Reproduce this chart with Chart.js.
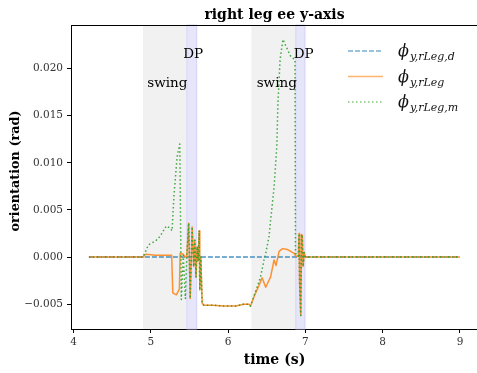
<!DOCTYPE html>
<html>
<head>
<meta charset="utf-8">
<script src="https://cdn.jsdelivr.net/npm/chart.js@4/dist/chart.umd.min.js"></script>
<style>
  body { margin: 0; background: #fff; }
  canvas { display: block; }
</style>
</head>
<body>
<canvas id="chart" width="477" height="373"></canvas>
<script>
// tick labels
const xTicks = [4, 5, 6, 7, 8, 9];
const yTicks = [-0.005, 0, 0.005, 0.010, 0.015, 0.020];

// phases (s)
const swingSpans = [[4.9, 5.46], [6.3, 6.87]];
const dpSpans = [[5.46, 5.6], [6.87, 7.0]];

// desired orientation
const desiredT = [4.2, 5.0, 6.0, 7.0, 8.0, 9.0];
const desiredV = [0, 0, 0, 0, 0, 0];

// estimated orientation
const measT = [4.2, 4.9, 4.91, 4.94, 5.06, 5.27, 5.285, 5.33, 5.37, 5.38, 5.42, 5.445, 5.465,
  5.49, 5.51, 5.535, 5.555, 5.57, 5.585, 5.6, 5.613, 5.626, 5.634, 5.647, 5.665, 5.686,
  5.8, 5.95, 6.1, 6.2, 6.27, 6.29, 6.335, 6.4, 6.44, 6.487, 6.55, 6.595, 6.62, 6.66,
  6.705, 6.77, 6.855, 6.875, 6.91, 6.918, 6.925, 6.94, 6.95, 6.96, 6.97, 6.985, 7.0, 9.0];
const measV = [0, 0, 0.0002, 0.0003, 0.0002, 0.0002, -0.0038, -0.0040, -0.0034, 0.0004, 0.0003, 0, 0,
  0.0036, -0.0044, 0.0032, -0.0010, 0.0018, -0.0021, 0.0011, -0.0004, 0.0028, -0.0035, 0, -0.0049, -0.0051,
  -0.0051, -0.0052, -0.0052, -0.0050, -0.0050, -0.0052, -0.0042, -0.0030, -0.0022, -0.0032, -0.0021, -0.0003, -0.0009, 0.0006,
  0.0009, 0.0008, 0.0004, 0.0001, 0.0001, 0.0025, -0.0028, -0.0062, 0.0024, 0.0023, -0.0010, 0.0005, 0, 0];

// measured orientation
const cmdT = [4.2, 4.9, 4.97, 5.06, 5.12, 5.2, 5.245, 5.275, 5.3, 5.34, 5.375, 5.395, 5.42, 5.448, 5.465,
  5.49, 5.51, 5.535, 5.555, 5.57, 5.585, 5.6, 5.613, 5.626, 5.634, 5.647, 5.665, 5.686,
  5.8, 5.95, 6.1, 6.2, 6.27, 6.29, 6.315, 6.38, 6.42, 6.465, 6.487, 6.53, 6.55, 6.595, 6.63,
  6.645, 6.672, 6.71, 6.725, 6.81, 6.855, 6.866, 6.872, 6.91, 6.918, 6.925, 6.94, 6.95, 6.96, 6.97, 6.985, 7.0, 9.0];
const cmdV = [0, 0, 0.0013, 0.0017, 0.0022, 0.0033, 0.0031, 0.0028, 0.0065, 0.0106, 0.0120, -0.0045, 0.0002, -0.0044, 0,
  0.0036, -0.0044, 0.0032, -0.0010, 0.0018, -0.0021, 0.0011, -0.0004, 0.0028, -0.0035, 0, -0.0049, -0.0051,
  -0.0051, -0.0052, -0.0052, -0.0050, -0.0050, -0.0052, -0.0046, -0.0031, -0.0021, -0.0003, 0.0004, 0.0022, 0.0039, 0.0074, 0.0117,
  0.0163, 0.0209, 0.0231, 0.0228, 0.0213, 0.0210, 0.0209, 0.0004, 0.0001, 0.0025, -0.0028, -0.0062, 0.0024, 0.0023, -0.0010, 0.0005, 0, 0];

const legendSubs = ['y,rLeg,d', 'y,rLeg', 'y,rLeg,m'];

const SERIF = '"DejaVu Serif", serif';
const toXY = (ts, vs) => ts.map((t, i) => ({ x: t, y: vs[i] }));

const phasePlugin = {
    id: 'phases',
    beforeDatasetsDraw(chart) {
        const { ctx, chartArea: a, scales: { x } } = chart;
        ctx.save();
        swingSpans.forEach(([s, e]) => {
            ctx.fillStyle = '#f1f1f1';
            ctx.fillRect(x.getPixelForValue(s), a.top, x.getPixelForValue(e) - x.getPixelForValue(s), a.bottom - a.top);
        });
        dpSpans.forEach(([s, e]) => {
            const x0 = x.getPixelForValue(s), x1 = x.getPixelForValue(e);
            ctx.fillStyle = '#e6e6fb';
            ctx.fillRect(x0, a.top, x1 - x0, a.bottom - a.top);
            ctx.strokeStyle = 'rgba(205,205,242,0.7)';
            ctx.lineWidth = 1;
            ctx.strokeRect(x0 + 0.5, a.top, x1 - x0 - 1, a.bottom - a.top);
        });
        ctx.restore();
    },
    afterDatasetsDraw(chart) {
        const { ctx, scales: { x, y } } = chart;
        ctx.save();
        ctx.fillStyle = '#000';
        ctx.font = '13.5px ' + SERIF;
        ctx.textAlign = 'left';
        ctx.textBaseline = 'alphabetic';
        [[4.955, 0.0180, 'swing'], [6.37, 0.0180, 'swing'], [5.42, 0.0211, 'DP'], [6.85, 0.0211, 'DP']].forEach(([t, v, s]) => {
            ctx.fillText(s, x.getPixelForValue(t), y.getPixelForValue(v));
        });
        ctx.restore();
    },
    afterDraw(chart) {
        const { ctx, chartArea: a } = chart;
        ctx.save();
        // top spine
        ctx.strokeStyle = '#000';
        ctx.lineWidth = 1;
        ctx.beginPath();
        ctx.moveTo(a.left, a.top + 0.5);
        ctx.lineTo(a.right, a.top + 0.5);
        ctx.stroke();

        ctx.fillStyle = '#000';
        ctx.textAlign = 'center';
        ctx.font = 'bold 14px ' + SERIF;
        ctx.fillText('right leg ee y-axis', 274.5, 18.5);
        ctx.fillText('time (s)', 274.5, 364);
        ctx.save();
        ctx.translate(19, 171);
        ctx.rotate(-Math.PI / 2);
        ctx.font = 'bold 12.8px ' + SERIF;
        ctx.fillText('orientation (rad)', 0, 0);
        ctx.restore();

        // legend
        const ds = chart.data.datasets;
        const rows = [51, 76.5, 102];
        ds.forEach((d, i) => {
            const yy = rows[i];
            ctx.strokeStyle = d.legendColor;
            ctx.lineWidth = 1.5;
            ctx.setLineDash(d.borderDash || []);
            ctx.beginPath();
            ctx.moveTo(348, yy);
            ctx.lineTo(383, yy);
            ctx.stroke();
            ctx.setLineDash([]);
            ctx.textAlign = 'left';
            ctx.fillStyle = '#111';
            ctx.font = 'italic 16px ' + SERIF;
            ctx.fillText('ϕ', 398, yy + 5);
            ctx.font = 'italic 11px ' + SERIF;
            ctx.fillText(legendSubs[i], 410, yy + 9);
        });
        ctx.restore();
    }
};

const tickFont = { family: SERIF, size: 10.5 };

new Chart(document.getElementById('chart'), {
    type: 'line',
    data: {
        datasets: [
            {
                label: 'desired', data: toXY(desiredT, desiredV),
                borderColor: 'rgba(31,119,180,0.8)', legendColor: 'rgba(31,119,180,0.6)',
                borderDash: [5, 2], borderWidth: 1.5, pointRadius: 0, order: 3
            },
            {
                label: 'estimated', data: toXY(measT, measV),
                borderColor: 'rgba(255,127,14,0.85)', legendColor: 'rgba(255,127,14,0.6)',
                borderWidth: 1.5, pointRadius: 0, borderJoinStyle: 'round', order: 2
            },
            {
                label: 'measured', data: toXY(cmdT, cmdV),
                borderColor: 'rgba(44,160,44,0.9)', legendColor: 'rgba(44,160,44,0.6)',
                borderDash: [1.5, 2.5], borderWidth: 1.5, pointRadius: 0, borderJoinStyle: 'round', order: 1
            }
        ]
    },
    options: {
        responsive: false,
        animation: false,
        devicePixelRatio: 1,
        layout: { padding: { top: 25, left: 0, right: 0, bottom: 0 } },
        plugins: { legend: { display: false }, tooltip: { enabled: false } },
        scales: {
            x: {
                type: 'linear', min: 3.968, max: 9.22,
                afterBuildTicks: s => { s.ticks = xTicks.map(v => ({ value: v })); },
                afterFit: s => { s.height = 44; },
                grid: { drawOnChartArea: false, tickLength: 4, tickColor: '#000' },
                border: { color: '#000', width: 1 },
                ticks: { font: tickFont, color: '#333', padding: 3, maxRotation: 0, callback: v => String(v) }
            },
            y: {
                type: 'linear', min: -0.00763, max: 0.02463,
                afterBuildTicks: s => { s.ticks = yTicks.map(v => ({ value: v })); },
                afterFit: s => { s.width = 71; },
                grid: { drawOnChartArea: false, tickLength: 4, tickColor: '#000' },
                border: { color: '#000', width: 1 },
                ticks: { font: tickFont, color: '#333', padding: 4, callback: v => v.toFixed(3).replace('-', '\u2212') }
            }
        }
    },
    plugins: [phasePlugin]
});
</script>
</body>
</html>
